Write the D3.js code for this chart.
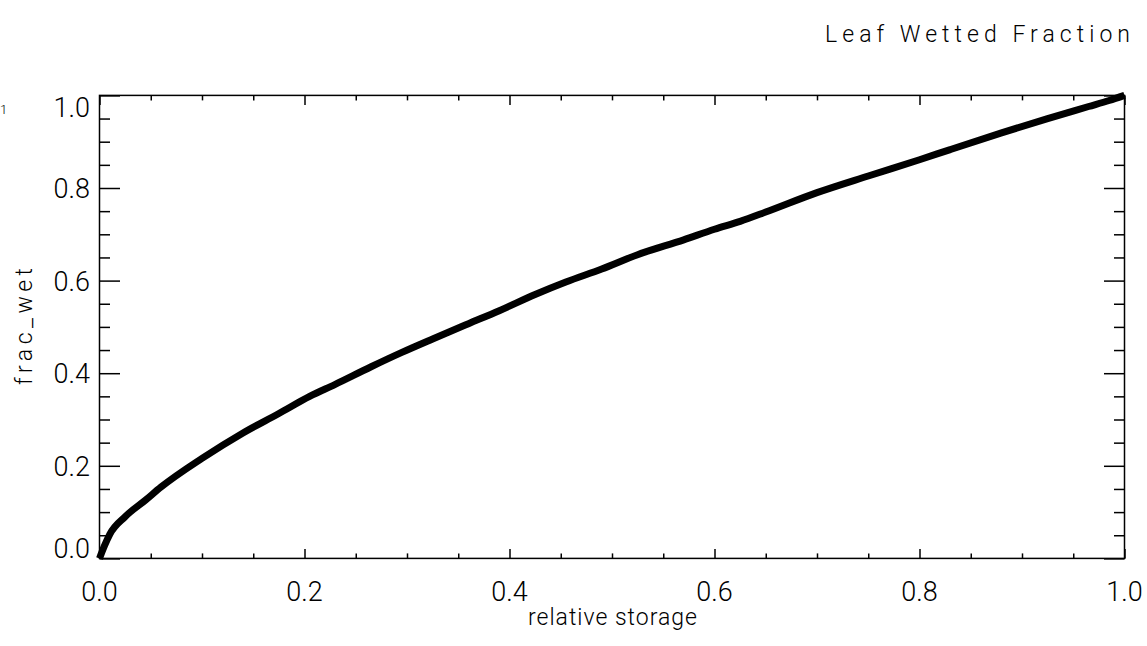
<!DOCTYPE html>
<html>
<head>
<meta charset="utf-8">
<script src="https://cdn.jsdelivr.net/npm/d3@7"></script>
<style>
  html, body { margin: 0; padding: 0; background: #fff; }
  svg { display: block; }
  text { font-family: Roboto, "Liberation Sans", sans-serif; font-weight: 300; fill: #000; }
</style>
</head>
<body>
<svg id="chart" width="1147" height="646"></svg>
<script>
// ---- data ----
const relStorage = [0, 0.005, 0.01, 0.025, 0.045, 0.06, 0.1, 0.14, 0.175, 0.205, 0.23, 0.265, 0.295, 0.325, 0.36, 0.39, 0.425, 0.455, 0.49, 0.525, 0.57, 0.6, 0.625, 0.65, 0.7, 0.75, 0.8, 0.83, 0.88, 0.925, 0.965, 0.985, 1.0];
const fracWet    = [0, 0.028, 0.052, 0.09, 0.126, 0.154, 0.216, 0.271, 0.313, 0.35, 0.376, 0.414, 0.445, 0.474, 0.507, 0.535, 0.57, 0.597, 0.625, 0.656, 0.688, 0.711, 0.728, 0.748, 0.79, 0.826, 0.861, 0.883, 0.919, 0.95, 0.976, 0.989, 1.0];
const majorTicks = [0, 0.2, 0.4, 0.6, 0.8, 1.0];
const minorTicks = [0.05, 0.1, 0.15, 0.25, 0.3, 0.35, 0.45, 0.5, 0.55, 0.65, 0.7, 0.75, 0.85, 0.9, 0.95];
const tickLabels = ["0.0", "0.2", "0.4", "0.6", "0.8", "1.0"];
const titleText = "Leaf Wetted Fraction";
const xLabel = "relative storage";
const yLabel = "frac_wet";

// ---- layout ----
const svg = d3.select("#chart");
const L = 99.5, R = 1124.5, T = 95.4, B = 558.4;
const x = d3.scaleLinear().domain([0, 1]).range([L, R]);
const y = d3.scaleLinear().domain([0, 1]).range([B, T]);

const fmt = (d) => tickLabels[majorTicks.indexOf(d)];

function styleAxis(g) {
  g.select(".domain").remove();
  g.selectAll("line").attr("stroke", "#000").attr("stroke-width", 1.5);
}

// bottom & top major/minor ticks (inward)
svg.append("g").attr("transform", `translate(0,${B})`)
  .call(d3.axisBottom(x).tickValues(majorTicks).tickSizeInner(-9.5).tickSizeOuter(0).tickFormat(""))
  .call(styleAxis);
svg.append("g").attr("transform", `translate(0,${B})`)
  .call(d3.axisBottom(x).tickValues(minorTicks).tickSizeInner(-5).tickSizeOuter(0).tickFormat(""))
  .call(styleAxis);
svg.append("g").attr("transform", `translate(0,${T})`)
  .call(d3.axisTop(x).tickValues(majorTicks).tickSizeInner(-9.5).tickSizeOuter(0).tickFormat(""))
  .call(styleAxis);
svg.append("g").attr("transform", `translate(0,${T})`)
  .call(d3.axisTop(x).tickValues(minorTicks).tickSizeInner(-5).tickSizeOuter(0).tickFormat(""))
  .call(styleAxis);
// left & right
svg.append("g").attr("transform", `translate(${L},0)`)
  .call(d3.axisLeft(y).tickValues(majorTicks).tickSizeInner(-20.5).tickSizeOuter(0).tickFormat(""))
  .call(styleAxis);
svg.append("g").attr("transform", `translate(${L},0)`)
  .call(d3.axisLeft(y).tickValues(minorTicks).tickSizeInner(-10.5).tickSizeOuter(0).tickFormat(""))
  .call(styleAxis);
svg.append("g").attr("transform", `translate(${R},0)`)
  .call(d3.axisRight(y).tickValues(majorTicks).tickSizeInner(-20.5).tickSizeOuter(0).tickFormat(""))
  .call(styleAxis);
svg.append("g").attr("transform", `translate(${R},0)`)
  .call(d3.axisRight(y).tickValues(minorTicks).tickSizeInner(-10.5).tickSizeOuter(0).tickFormat(""))
  .call(styleAxis);

// frame
svg.append("rect").attr("x", L).attr("y", T).attr("width", R - L).attr("height", B - T)
  .attr("fill", "none").attr("stroke", "#000").attr("stroke-width", 1.5);

// tick labels
svg.append("g").selectAll("text").data(majorTicks).join("text")
  .attr("x", d => x(d)).attr("y", 601).attr("text-anchor", "middle")
  .attr("font-size", 27).text(fmt);

const half = 10;
svg.append("g").selectAll("text").data(majorTicks).join("text")
  .attr("x", 90).attr("text-anchor", "end").attr("font-size", 27)
  .attr("y", d => Math.max(T + 2 + half, Math.min(B - half, y(d))) + half)
  .text(fmt);

// curve
svg.append("path")
  .datum(relStorage.map((d, i) => [d, fracWet[i]]))
  .attr("fill", "none").attr("stroke", "#000").attr("stroke-width", 7)
  .attr("stroke-linejoin", "round")
  .attr("d", d3.line().curve(d3.curveMonotoneX).x(d => x(d[0])).y(d => y(d[1])));

// titles
svg.append("text").attr("x", 825).attr("y", 42).attr("font-size", 23)
  .attr("textLength", 305).attr("lengthAdjust", "spacing").text(titleText);
svg.append("text").attr("x", 528).attr("y", 625).attr("font-size", 23)
  .attr("textLength", 169).attr("lengthAdjust", "spacing").text(xLabel);
svg.append("text").attr("transform", "translate(32,385) rotate(-90)").attr("font-size", 23)
  .attr("textLength", 117).attr("lengthAdjust", "spacing").text(yLabel);

// stray glyph at far left
svg.append("text").attr("x", 0).attr("y", 114).attr("font-size", 13)
  .attr("text-anchor", "start").text("1");
</script>
</body>
</html>
